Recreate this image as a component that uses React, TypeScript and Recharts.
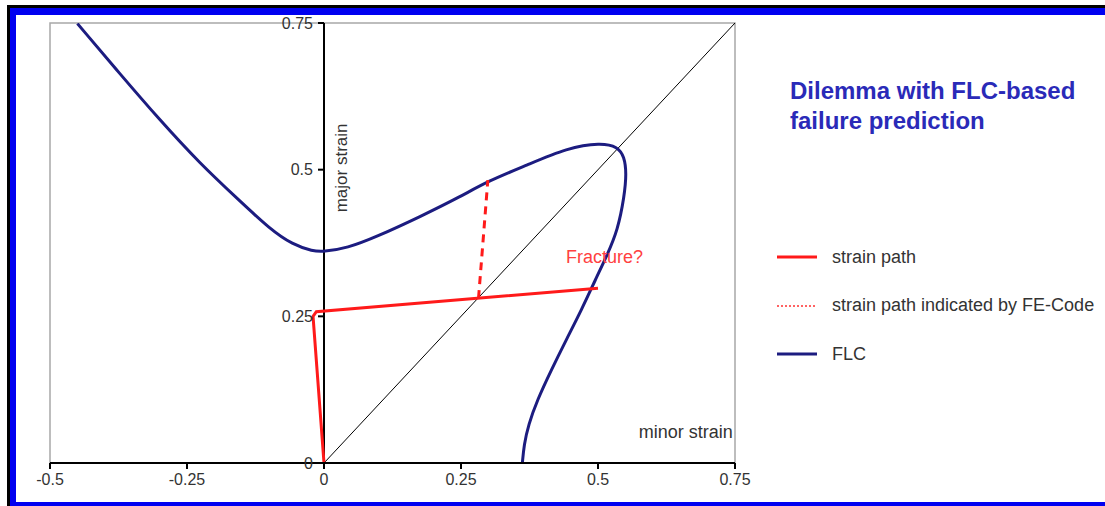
import React from "react";
import {
  ComposedChart,
  Line,
  XAxis,
  YAxis,
  ReferenceLine,
  ReferenceArea,
  ReferenceDot,
} from "recharts";

// values (minor strain = x, major strain = y)
const flcMinor = [
  -0.45, -0.373, -0.3, -0.227, -0.154, -0.099, -0.057, -0.02, -0.002, 0.042,
  0.097, 0.176, 0.249, 0.298, 0.371, 0.444, 0.505, 0.536, 0.548, 0.552, 0.548,
  0.536, 0.517, 0.495, 0.47, 0.442, 0.415, 0.389, 0.373, 0.365, 0.362,
];
const flcMajor = [
  0.749, 0.664, 0.585, 0.511, 0.447, 0.399, 0.372, 0.361, 0.36, 0.366, 0.386,
  0.42, 0.454, 0.48, 0.508, 0.537, 0.546, 0.539, 0.522, 0.494, 0.454, 0.397,
  0.355, 0.312, 0.261, 0.21, 0.159, 0.107, 0.065, 0.031, 0.0,
];
const pathMinor = [0, -0.02, -0.014, 0.5];
const pathMajor = [0, 0.25, 0.258, 0.298];
const feMinor = [0.282, 0.299];
const feMajor = [0.281, 0.482];
const diagMinor = [0, 0.75];
const diagMajor = [0, 0.75];

const xTicks = [-0.5, -0.25, 0, 0.25, 0.5, 0.75];
const yTicks = [0, 0.25, 0.5, 0.75];

const legendItems = [
  { label: "strain path", color: "#ff1a1a", dash: "", width: 3 },
  { label: "strain path indicated by FE-Code", color: "#ff3030", dash: "2 2", width: 1.5 },
  { label: "FLC", color: "#1c1c80", dash: "", width: 3 },
];

const zip = (xs: number[], ys: number[]) => xs.map((x, i) => ({ x, y: ys[i] }));

const flc = zip(flcMinor, flcMajor);
const strainPath = zip(pathMinor, pathMajor);
const fePath = zip(feMinor, feMajor);
const diagonal = zip(diagMinor, diagMajor);

const TICK = 0.011; // y tick mark length in minor-strain units

export default function App() {
  return (
    <div
      style={{
        position: "absolute",
        left: 0,
        top: 0,
        width: 1105,
        height: 506,
        background: "#fff",
        overflow: "hidden",
        fontFamily: "'Liberation Sans', Arial, sans-serif",
      }}
    >
      <div
        style={{
          position: "absolute",
          left: 7,
          top: 5,
          right: 0,
          bottom: 0,
          borderTop: "3px solid #000",
          borderLeft: "3px solid #000",
        }}
      />
      <div
        style={{
          position: "absolute",
          left: 10,
          top: 8,
          right: 0,
          bottom: 0,
          borderTop: "7px solid #0000f0",
          borderLeft: "6px solid #0000f0",
          borderBottom: "4px solid #0000f0",
          boxSizing: "border-box",
        }}
      />

      <div style={{ position: "absolute", left: 0, top: 0 }}>
        <ComposedChart
          width={1105}
          height={506}
          margin={{ top: 23, right: 370, left: 50, bottom: 13 }}
        >
          <XAxis
            type="number"
            dataKey="x"
            domain={[-0.5, 0.75]}
            ticks={xTicks}
            allowDataOverflow
            height={30}
            tickSize={6}
            tickMargin={5}
            tick={{ fill: "#333", fontSize: 16 }}
            axisLine={{ stroke: "#000", strokeWidth: 2 }}
            tickLine={{ stroke: "#000", strokeWidth: 2 }}
          />
          <YAxis type="number" dataKey="y" domain={[0, 0.75]} hide allowDataOverflow />

          <ReferenceArea
            x1={-0.5}
            x2={0.75}
            y1={0}
            y2={0.75}
            fill="none"
            stroke="#a8a8a8"
            strokeWidth={1.5}
          />
          <ReferenceLine
            segment={[
              { x: 0, y: 0 },
              { x: 0, y: 0.75 },
            ]}
            stroke="#000"
            strokeWidth={2}
          />
          {yTicks.map((t) => (
            <ReferenceLine
              key={t}
              segment={[
                { x: -TICK, y: t },
                { x: 0, y: t },
              ]}
              stroke="#000"
              strokeWidth={2}
              label={{ value: String(t), position: "left", fill: "#333", fontSize: 16 }}
            />
          ))}

          <Line
            data={diagonal}
            dataKey="y"
            type="linear"
            stroke="#000"
            strokeWidth={1}
            dot={false}
            isAnimationActive={false}
            legendType="none"
          />
          <Line
            data={flc}
            dataKey="y"
            type="basis"
            stroke="#1c1c80"
            strokeWidth={3}
            dot={false}
            isAnimationActive={false}
          />
          <Line
            data={strainPath}
            dataKey="y"
            type="linear"
            stroke="#ff1a1a"
            strokeWidth={3}
            dot={false}
            isAnimationActive={false}
          />
          <Line
            data={fePath}
            dataKey="y"
            type="linear"
            stroke="#ff1a1a"
            strokeWidth={3}
            strokeDasharray="8 6"
            dot={false}
            isAnimationActive={false}
          />

          <ReferenceDot
            x={0.031}
            y={0.503}
            r={0}
            stroke="none"
            label={{ value: "major strain", position: "center", angle: -90, fill: "#333", fontSize: 17 }}
          />
          <ReferenceDot
            x={0.746}
            y={0.053}
            r={0}
            stroke="none"
            label={{ value: "minor strain", position: "left", offset: 0, fill: "#333", fontSize: 18 }}
          />
          <ReferenceDot
            x={0.512}
            y={0.351}
            r={0}
            stroke="none"
            label={{ value: "Fracture?", position: "center", fill: "#ff4040", fontSize: 18 }}
          />
        </ComposedChart>
      </div>

      <div
        style={{
          position: "absolute",
          left: 790,
          top: 76,
          color: "#2a2ab8",
          fontWeight: "bold",
          fontSize: 24,
          lineHeight: "30px",
        }}
      >
        Dilemma with FLC-based
        <br />
        failure prediction
      </div>

      {legendItems.map((it, i) => (
        <div
          key={it.label}
          style={{
            position: "absolute",
            left: 777,
            top: 245 + i * 48.5,
            height: 24,
            display: "flex",
            alignItems: "center",
            whiteSpace: "nowrap",
          }}
        >
          <svg width={40} height={10} style={{ marginRight: 15 }}>
            <line
              x1={0}
              y1={5}
              x2={40}
              y2={5}
              stroke={it.color}
              strokeWidth={it.width}
              strokeDasharray={it.dash || undefined}
            />
          </svg>
          <span style={{ fontSize: 18, color: "#333" }}>{it.label}</span>
        </div>
      ))}
    </div>
  );
}
